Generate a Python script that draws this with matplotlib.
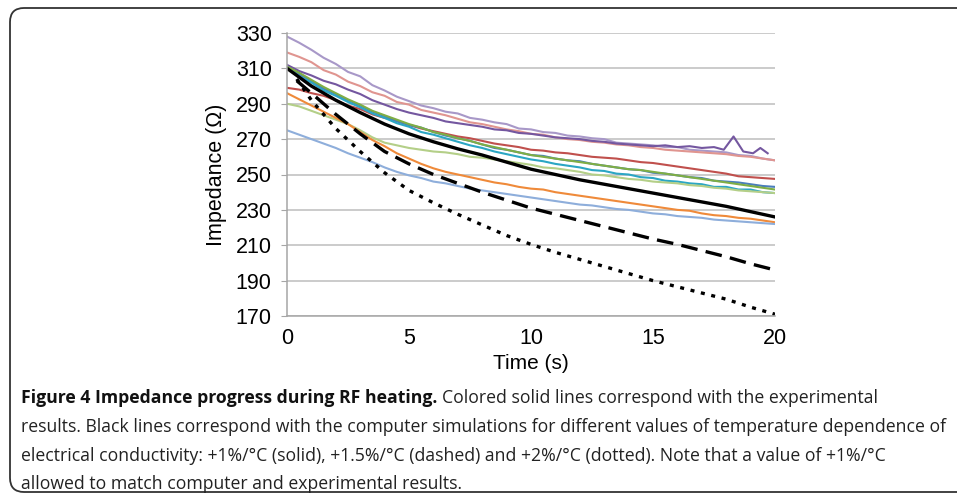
import matplotlib
matplotlib.use('Agg')
import matplotlib.pyplot as plt
from matplotlib.patches import FancyBboxPatch

# time axis (s), one reading every half second
t = [i * 0.5 for i in range(41)]

lavender = [328, 324.5, 320.5, 316, 312.5, 308, 305.5, 300.5, 297.5, 294, 291.5, 289, 287.5, 285.5, 284.5, 282,
            281, 279.5, 278.5, 276, 275.5, 274, 273.5, 272, 271.5, 270.5, 270, 268, 267.5, 267, 266.5, 265.5,
            265.5, 264, 263.5, 263, 262.5, 261, 260.5, 259, 258]
pink = [319, 316.5, 313.5, 309, 306.5, 302.5, 300, 296.5, 294.5, 291, 289.5, 286.5, 285, 283.5, 281.5, 279.5,
        278.5, 277, 275.5, 274.5, 273, 272.5, 271, 270, 269.5, 268.5, 268, 267, 266.5, 265.5, 265, 264, 263.5,
        263, 262.5, 262, 261.5, 260.5, 260, 259, 258]
blue = [311, 306.5, 303, 298.5, 295.5, 292, 289, 285.5, 283, 280, 278, 276.5, 274, 272, 270.5, 269, 267, 265,
        264, 262.5, 261, 260.5, 259, 258, 257.5, 256, 255, 254, 253, 252.5, 251, 250.5, 249.5, 248.5, 248,
        246.5, 246, 245.5, 244.5, 243.5, 243]
teal = [310, 305.5, 302, 297.5, 294.5, 291, 288, 284.5, 282, 279, 277, 274, 272.5, 270.5, 268.5, 266.5, 265,
        263, 261.5, 260, 258.5, 257.5, 256, 255, 254, 252.5, 252, 250.5, 250, 248.5, 248, 246.5, 246, 245,
        244.5, 243, 243, 241.5, 241.5, 240, 239.5]
green = [311, 307.5, 303.5, 299.5, 296, 292.5, 289.5, 286, 283.5, 281, 278.5, 276.5, 274, 272.5, 270.5, 269,
         267, 265.5, 264, 262.5, 261, 260, 259, 258, 257, 256, 255, 254, 253, 252.5, 251.5, 250.5, 249.5,
         248.5, 247.5, 246.5, 245.5, 244.5, 243.5, 242.5, 241.5]
red = [299, 298, 296, 294.5, 292, 289, 287, 284, 282, 280.5, 278, 276, 274.5, 273, 271.5, 270.5, 269, 267.5,
       266.5, 265.5, 264, 263.5, 262.5, 262, 261, 260, 259.5, 259, 258, 257, 256.5, 255.5, 254.5, 253.5,
       252.5, 251.5, 250.5, 249, 248.5, 248, 247.5]
light_green = [290, 288.5, 286, 283.5, 281, 278.5, 275, 271, 268, 266.5, 265, 264, 263, 262.5, 261.5, 260,
               259.5, 258.5, 257.5, 256.5, 255.5, 254, 253.5, 252.5, 251.5, 250, 249.5, 248.5, 247.5, 247,
               246, 245.5, 245, 244, 243.5, 242.5, 242, 241, 240.5, 240, 239.5]
orange = [296, 292.5, 289, 285.5, 282, 278.5, 274, 269.5, 266, 262, 259, 256, 253.5, 251.5, 250, 248.5, 247,
          245.5, 244.5, 243, 242, 241.5, 240, 239, 238, 237, 236, 235, 234, 233, 232, 231, 230, 229.5, 228,
          227, 226.5, 225.5, 225, 224, 223]
light_blue = [275, 272.5, 270, 267.5, 265, 262, 259.5, 257, 254, 251.5, 249.5, 248, 246, 245, 243.5, 242, 241,
              240, 239, 238, 237, 236, 235, 234, 233, 232.5, 231.5, 230.5, 230, 229, 228, 227.5, 226.5, 226,
              225.5, 224.5, 224, 223.5, 223, 222.5, 222]

# purple run stops a bit before 20 s and has a spike near 18 s
t_purple = [i * 0.5 for i in range(36)] + [17.9, 18.3, 18.7, 19.1, 19.4, 19.7]
purple = [312, 308.5, 306, 303, 301, 298, 295.5, 292, 289.5, 287, 285, 283.5, 282, 280, 279, 278, 277, 275.5,
          275, 273.5, 273, 272, 271, 270.5, 270, 269, 268.5, 267.5, 267, 266.5, 266, 266.5, 265.5, 266, 265,
          265.5, 264, 271.5, 263, 262, 265, 262]

# simulations
t_solid = list(range(21))
sim_solid = [310, 300, 292, 285, 278.5, 273, 268.5, 264.5, 261, 257, 253, 250, 247, 244.5, 242, 239.5, 237,
             234.5, 232, 229, 226]
t_sim = [0.4, 1, 2, 3, 4, 5, 6, 7, 8, 9, 10, 11, 12, 13, 14, 15, 16, 17, 18, 19, 20]
sim_dashed = [303, 296, 284, 273, 263, 256, 250, 245, 240, 235.5, 231, 227.5, 224, 220.5, 217, 213.5, 210.5,
              207, 203.5, 199.5, 196]
sim_dotted = [304, 292, 276, 263, 251, 241, 234, 227.5, 221.5, 215.5, 210.5, 206, 202, 198, 194, 190, 186.5,
              183, 179.5, 175, 171]

yticks = [170, 190, 210, 230, 250, 270, 290, 310, 330]
xticks = [0, 5, 10, 15, 20]

heading = "Figure 4 Impedance progress during RF heating."
caption = [
    "Colored solid lines correspond with the experimental",
    "results. Black lines correspond with the computer simulations for different values of temperature dependence of",
    "electrical conductivity: +1%/\u00b0C (solid), +1.5%/\u00b0C (dashed) and +2%/\u00b0C (dotted). Note that a value of +1%/\u00b0C",
    "allowed to match computer and experimental results.",
]

W, H = 957, 499
fig = plt.figure(figsize=(W / 100, H / 100), dpi=100)

# background layer in pixel coordinates (border + caption)
bg = fig.add_axes([0, 0, 1, 1], zorder=0)
bg.set_xlim(0, W)
bg.set_ylim(H, 0)
bg.axis('off')
bg.add_patch(FancyBboxPatch((10, 8), 980, 484, boxstyle='round,pad=0,rounding_size=14',
                            fc='white', ec='#333333', lw=1.3))

cap_font = 'Open Sans'
# pick a size so the longest caption line spans the same width as in the figure
probe = bg.text(0, 0, caption[1], fontsize=13, family=cap_font)
fig.canvas.draw()
cap_size = 13 * 922 / probe.get_window_extent().width
probe.remove()

tb = bg.text(21, 398, heading, fontsize=cap_size, fontweight='bold', family=cap_font,
             va='center', ha='left', color='#111111')
fig.canvas.draw()
bb = tb.get_window_extent()
bg.text(21 + bb.width + 5, 398, caption[0], fontsize=cap_size, family=cap_font,
        va='center', ha='left', color='#222222')
for i, line in enumerate(caption[1:]):
    bg.text(21, 427 + 28.7 * i, line, fontsize=cap_size, family=cap_font,
            va='center', ha='left', color='#222222')

# plot area
x0, x1, y0, y1 = 287, 775, 33, 316
ax = fig.add_axes([x0 / W, 1 - y1 / H, (x1 - x0) / W, (y1 - y0) / H], zorder=1)
ax.patch.set_alpha(0)

lw = 1.5
ax.plot(t, lavender, color='#a898c8', lw=lw)
ax.plot(t, pink, color='#e09590', lw=lw)
ax.plot(t_purple, purple, color='#7457a0', lw=lw)
ax.plot(t, red, color='#c0504d', lw=lw)
ax.plot(t, blue, color='#4a7ebb', lw=lw)
ax.plot(t, green, color='#7fae45', lw=lw)
ax.plot(t, teal, color='#2ba6c4', lw=lw)
ax.plot(t, light_green, color='#b4cf88', lw=lw)
ax.plot(t, orange, color='#ef8a3a', lw=lw)
ax.plot(t, light_blue, color='#8eaedb', lw=lw)

ax.plot(t_solid, sim_solid, color='black', lw=2.4)
ax.plot(t_sim, sim_dashed, color='black', lw=2.4, dashes=(5, 2.5))
ax.plot(t_sim, sim_dotted, color='black', lw=2.4, dashes=(1.2, 2.0))

ax.set_xlim(0, 20)
ax.set_ylim(170, 330)
ax.set_xticks(xticks)
ax.set_yticks(yticks)
ax.grid(axis='y', color='#bdbdbd', lw=1.1)
ax.set_axisbelow(True)
for s in ['top', 'right']:
    ax.spines[s].set_visible(False)
for s in ['left', 'bottom']:
    ax.spines[s].set_color('#a6a6a6')
    ax.spines[s].set_linewidth(1.1)
ax.tick_params(axis='y', length=4, color='#a6a6a6', pad=7, labelsize=15.5)
ax.tick_params(axis='x', length=0, pad=9, labelsize=15.5)
for lab in ax.get_xticklabels() + ax.get_yticklabels():
    lab.set_family('Liberation Sans')
ax.set_ylabel('Impedance (\u03a9)', fontsize=15.5, family='Liberation Sans', labelpad=6)
ax.set_xlabel('Time (s)', fontsize=15, family='Liberation Sans', labelpad=3)

fig.savefig('out.png', dpi=100)
